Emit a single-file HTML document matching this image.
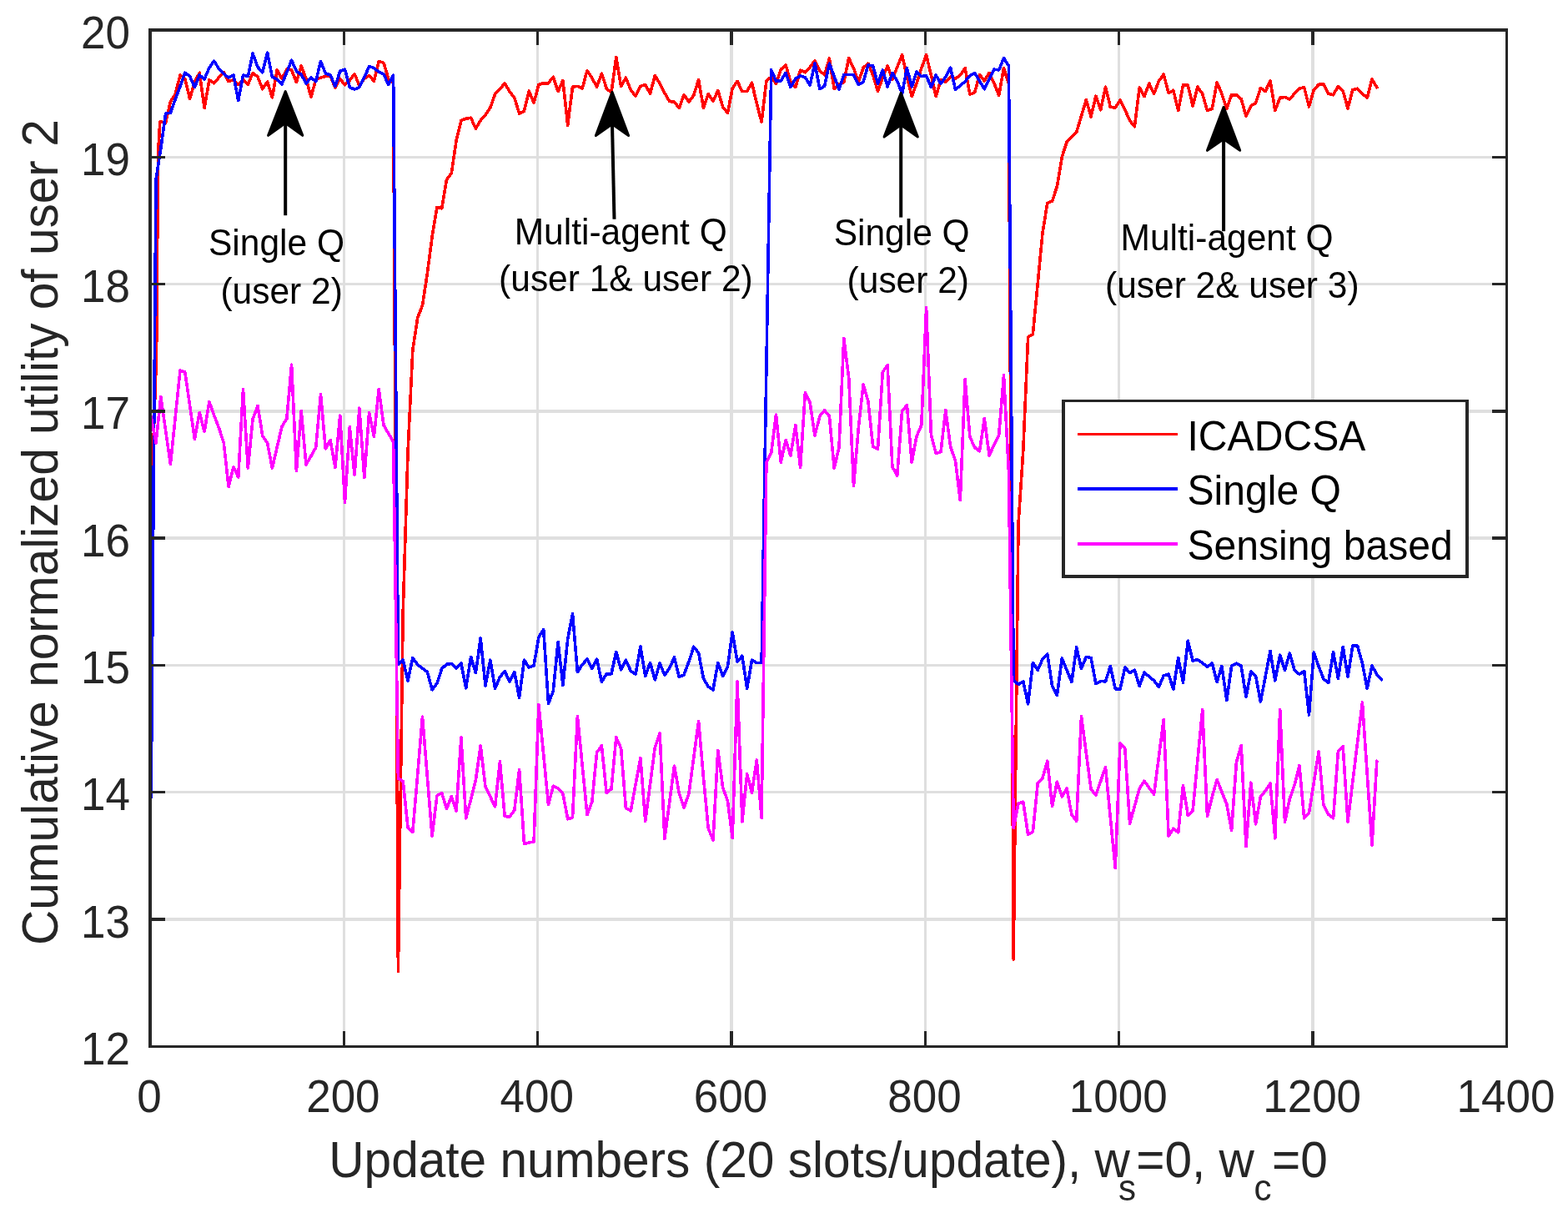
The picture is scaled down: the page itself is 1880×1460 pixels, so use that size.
<!DOCTYPE html>
<html><head><meta charset="utf-8"><title>Cumulative normalized utility of user 2</title><style>html,body{margin:0;padding:0;background:#fff;overflow:hidden}svg{display:block}</style></head><body>
<svg width="1880" height="1460" viewBox="0 0 1880 1460">
<rect width="1880" height="1460" fill="#ffffff"/>
<g stroke="#dfdfdf" stroke-width="3.4" shape-rendering="crispEdges"><line x1="412.36" y1="36.0" x2="412.36" y2="1254.3"/><line x1="644.71" y1="36.0" x2="644.71" y2="1254.3"/><line x1="877.07" y1="36.0" x2="877.07" y2="1254.3"/><line x1="1109.43" y1="36.0" x2="1109.43" y2="1254.3"/><line x1="1341.79" y1="36.0" x2="1341.79" y2="1254.3"/><line x1="1574.14" y1="36.0" x2="1574.14" y2="1254.3"/><line x1="180.0" y1="1102.01" x2="1806.5" y2="1102.01"/><line x1="180.0" y1="949.72" x2="1806.5" y2="949.72"/><line x1="180.0" y1="797.44" x2="1806.5" y2="797.44"/><line x1="180.0" y1="645.15" x2="1806.5" y2="645.15"/><line x1="180.0" y1="492.86" x2="1806.5" y2="492.86"/><line x1="180.0" y1="340.57" x2="1806.5" y2="340.57"/><line x1="180.0" y1="188.29" x2="1806.5" y2="188.29"/></g>
<polyline points="181.2,830.0 181.6,690.0 182.4,575.0 187.6,425.0 189.0,250.0 189.8,180.0 191.8,146.0 192.8,146.0 198.6,147.0 204.4,122.0 210.2,113.0 216.0,90.1 221.8,94.3 227.6,118.5 233.4,98.4 239.2,87.3 245.1,129.5 250.9,95.6 256.7,99.8 262.5,92.9 268.3,86.7 274.1,97.7 279.9,95.6 285.7,101.2 291.5,95.0 297.3,101.2 303.1,87.3 309.0,92.2 314.8,106.7 320.6,98.0 326.4,116.9 332.2,83.9 338.0,94.3 343.8,83.2 349.6,83.9 355.4,98.4 361.2,79.0 367.0,94.3 372.9,116.4 378.7,95.0 384.5,93.2 390.3,91.5 396.1,91.1 401.9,105.3 407.7,94.3 413.5,101.9 419.3,96.3 425.1,88.7 430.9,102.6 436.8,94.3 442.6,90.6 448.4,97.2 454.2,73.5 460.0,75.4 465.8,94.5 471.6,100.0 477.4,1164.5 483.2,734.0 489.0,543.0 494.8,420.0 500.7,381.0 506.5,366.0 512.3,328.0 518.1,284.0 523.9,248.3 529.7,249.8 535.5,215.2 541.3,207.6 547.1,168.5 552.9,144.4 558.7,142.1 564.6,141.3 570.4,154.2 576.2,144.4 582.0,137.6 587.8,129.3 593.6,112.7 599.4,106.7 605.2,99.9 611.0,109.7 616.8,117.2 622.6,136.1 628.5,133.1 634.3,109.0 640.1,123.3 645.9,101.4 651.7,99.7 657.5,99.7 663.3,92.3 669.1,109.6 674.9,96.4 680.7,150.3 686.5,104.2 692.4,103.4 698.2,105.9 704.0,84.5 709.8,93.6 715.6,104.2 721.4,88.2 727.2,106.0 733.0,111.2 738.8,68.5 744.6,103.4 750.4,93.1 756.3,107.9 762.1,115.3 767.9,103.4 773.7,101.4 779.5,112.1 785.3,90.7 791.1,100.1 796.9,111.6 802.7,121.5 808.5,122.3 814.3,129.3 820.1,113.7 826.0,122.3 831.8,114.1 837.6,95.6 843.4,129.3 849.2,112.5 855.0,121.5 860.8,108.4 866.6,128.1 872.4,135.5 878.2,105.9 884.0,97.3 889.9,109.6 895.7,109.6 901.5,99.3 907.3,124.0 913.1,146.2 918.9,97.0 924.7,92.2 930.5,100.4 936.3,83.2 942.1,77.7 947.9,98.4 953.8,104.6 959.6,84.2 965.4,86.7 971.2,80.4 977.0,72.8 982.8,84.6 988.6,89.8 994.4,70.1 1000.2,106.7 1006.0,101.2 1011.8,98.4 1017.7,69.7 1023.5,81.8 1029.3,98.4 1035.1,81.1 1040.9,76.3 1046.7,90.1 1052.5,109.5 1058.3,92.9 1064.1,79.0 1069.9,95.0 1075.7,80.4 1081.6,65.9 1087.4,91.5 1093.2,115.7 1099.0,99.8 1104.8,81.8 1110.6,65.9 1116.4,90.1 1122.2,115.7 1128.0,95.6 1133.8,98.4 1139.6,92.2 1145.5,94.3 1151.3,90.1 1157.1,81.5 1162.9,113.2 1168.7,110.9 1174.5,89.4 1180.3,97.0 1186.1,87.3 1191.9,99.8 1197.7,114.3 1203.5,81.5 1209.4,100.0 1215.2,1150.0 1221.0,628.0 1226.8,540.0 1232.6,404.0 1238.4,400.7 1244.2,340.0 1250.0,279.5 1255.8,243.4 1261.6,241.0 1267.4,223.5 1273.3,188.0 1279.1,170.0 1284.9,164.0 1290.7,158.3 1296.5,139.0 1302.3,119.6 1308.1,139.8 1313.9,115.2 1319.7,131.8 1325.5,104.1 1331.3,128.3 1337.2,129.2 1343.0,120.2 1348.8,131.6 1354.6,144.6 1360.4,151.8 1366.2,105.0 1372.0,115.6 1377.8,100.0 1383.6,112.4 1389.4,97.2 1395.2,89.2 1401.1,111.7 1406.9,108.3 1412.7,132.5 1418.5,102.0 1424.3,102.0 1430.1,126.9 1435.9,104.1 1441.7,112.4 1447.5,132.5 1453.3,130.4 1459.1,98.6 1464.9,112.4 1470.8,130.4 1476.6,113.8 1482.4,113.8 1488.2,118.6 1494.0,139.4 1499.8,126.9 1505.6,123.5 1511.4,105.5 1517.2,109.6 1523.0,96.5 1528.8,132.5 1534.7,117.2 1540.5,116.5 1546.3,119.0 1552.1,112.0 1557.9,106.2 1563.7,104.8 1569.5,128.0 1575.3,107.6 1581.1,101.3 1586.9,101.0 1592.7,112.4 1598.6,113.8 1604.4,103.4 1610.2,108.9 1616.0,130.0 1621.8,107.6 1627.6,106.2 1633.4,112.4 1639.2,117.2 1645.0,95.1 1650.8,104.8" fill="none" stroke="#ff0000" stroke-width="3.6" stroke-linejoin="round" stroke-linecap="round" shape-rendering="crispEdges"/>
<polyline points="181.2,956.0 187.0,215.0 192.8,178.0 198.6,136.0 204.4,135.1 210.2,118.9 216.0,103.7 221.8,87.3 227.6,91.5 233.4,104.6 239.2,90.1 245.1,95.0 250.9,81.1 256.7,73.2 262.5,82.5 268.3,88.7 274.1,93.2 279.9,89.8 285.7,120.5 291.5,90.1 297.3,91.5 303.1,64.2 309.0,80.4 314.8,86.7 320.6,63.1 326.4,92.2 332.2,95.0 338.0,100.8 343.8,86.7 349.6,72.1 355.4,85.3 361.2,89.4 367.0,99.8 372.9,93.2 378.7,97.7 384.5,73.5 390.3,88.0 396.1,89.8 401.9,103.6 407.7,85.3 413.5,83.2 419.3,104.6 425.1,107.1 430.9,104.6 436.8,92.9 442.6,79.4 448.4,81.5 454.2,86.2 460.0,89.0 465.8,101.6 471.6,90.1 477.4,796.2 483.2,791.2 489.0,815.9 494.8,788.5 500.7,796.7 506.5,801.1 512.3,805.5 518.1,826.8 523.9,819.2 529.7,801.6 535.5,796.2 541.3,795.6 547.1,801.1 552.9,795.1 558.7,824.7 564.6,787.4 570.4,806.6 576.2,764.9 582.0,821.9 587.8,791.2 593.6,825.2 599.4,811.5 605.2,804.4 611.0,817.5 616.8,805.5 622.6,836.2 628.5,791.2 634.3,800.0 640.1,797.8 645.9,763.8 651.7,754.5 657.5,843.3 663.3,828.5 669.1,769.3 674.9,821.4 680.7,766.0 686.5,735.9 692.4,805.5 698.2,796.7 704.0,790.1 709.8,801.6 715.6,790.1 721.4,817.5 727.2,807.7 733.0,807.7 738.8,781.4 744.6,802.7 750.4,791.2 756.3,804.4 762.1,808.2 767.9,774.8 773.7,810.4 779.5,794.5 785.3,814.8 791.1,795.1 796.9,809.3 802.7,801.1 808.5,787.9 814.3,811.5 820.1,808.8 826.0,792.9 831.8,775.3 837.6,782.5 843.4,813.2 849.2,823.0 855.0,826.8 860.8,794.5 866.6,810.4 872.4,799.5 878.2,757.8 884.0,793.4 889.9,786.3 895.7,825.2 901.5,791.2 907.3,794.5 913.1,794.5 918.9,440.0 924.7,83.9 930.5,97.0 936.3,97.0 942.1,87.3 947.9,104.6 953.8,94.3 959.6,90.8 965.4,92.9 971.2,101.9 977.0,75.9 982.8,106.7 988.6,103.3 994.4,76.3 1000.2,91.5 1006.0,107.4 1011.8,89.4 1017.7,89.4 1023.5,89.8 1029.3,101.2 1035.1,98.4 1040.9,78.0 1046.7,79.0 1052.5,100.5 1058.3,83.9 1064.1,103.9 1069.9,87.3 1075.7,97.0 1081.6,112.2 1087.4,81.8 1093.2,103.9 1099.0,86.0 1104.8,91.5 1110.6,90.8 1116.4,104.6 1122.2,90.1 1128.0,100.5 1133.8,92.2 1139.6,81.1 1145.5,107.4 1151.3,102.6 1157.1,97.7 1162.9,90.8 1168.7,87.7 1174.5,97.0 1180.3,106.7 1186.1,95.0 1191.9,83.2 1197.7,83.9 1203.5,69.7 1209.4,79.0 1215.2,815.3 1221.0,820.3 1226.8,817.0 1232.6,843.8 1238.4,794.5 1244.2,803.3 1250.0,790.1 1255.8,784.1 1261.6,822.5 1267.4,833.4 1273.3,789.0 1279.1,803.3 1284.9,817.5 1290.7,775.9 1296.5,801.6 1302.3,787.4 1308.1,788.5 1313.9,819.7 1319.7,816.4 1325.5,817.0 1331.3,798.4 1337.2,825.8 1343.0,826.3 1348.8,800.0 1354.6,806.6 1360.4,803.3 1366.2,822.5 1372.0,806.0 1377.8,811.0 1383.6,815.9 1389.4,823.6 1395.2,809.9 1401.1,808.2 1406.9,826.3 1412.7,788.5 1418.5,818.1 1424.3,768.2 1430.1,792.3 1435.9,790.7 1441.7,794.5 1447.5,799.5 1453.3,795.1 1459.1,817.5 1464.9,798.4 1470.8,839.5 1476.6,798.4 1482.4,795.1 1488.2,798.4 1494.0,835.6 1499.8,804.9 1505.6,810.4 1511.4,841.1 1517.2,811.0 1523.0,780.3 1528.8,815.9 1534.7,785.2 1540.5,803.3 1546.3,783.0 1552.1,803.3 1557.9,808.2 1563.7,804.4 1569.5,857.0 1575.3,781.9 1581.1,798.9 1586.9,813.7 1592.7,818.6 1598.6,781.9 1604.4,813.2 1610.2,775.3 1616.0,811.5 1621.8,774.2 1627.6,774.2 1633.4,795.0 1639.2,825.2 1645.0,797.8 1650.8,808.5 1656.6,814.8" fill="none" stroke="#0000ff" stroke-width="3.6" stroke-linejoin="round" stroke-linecap="round" shape-rendering="crispEdges"/>
<polyline points="181.2,499.5 187.0,531.0 192.8,475.5 198.6,515.9 204.4,556.3 210.2,500.1 216.0,444.0 221.8,446.0 227.6,486.1 233.4,526.2 239.2,494.7 245.1,517.3 250.9,481.6 256.7,498.0 262.5,513.0 268.3,531.0 274.1,583.7 279.9,559.7 285.7,572.0 291.5,466.6 297.3,561.1 303.1,502.2 309.0,486.4 314.8,522.7 320.6,531.0 326.4,561.1 332.2,536.1 338.0,511.1 343.8,502.2 349.6,437.1 355.4,564.5 361.2,492.6 367.0,557.0 372.9,546.7 378.7,536.4 384.5,472.7 390.3,537.8 396.1,527.5 401.9,560.4 407.7,498.1 413.5,602.2 419.3,511.8 425.1,569.3 430.9,489.2 436.8,572.7 442.6,494.7 448.4,523.4 454.2,466.6 460.0,509.7 465.8,519.6 471.6,529.6 477.4,933.2 483.2,936.5 489.0,991.6 494.8,997.4 500.7,928.3 506.5,859.2 512.3,930.8 518.1,1002.3 523.9,953.8 529.7,950.5 535.5,969.4 541.3,954.6 547.1,971.9 552.9,883.9 558.7,980.9 564.6,957.9 570.4,934.9 576.2,893.8 582.0,943.1 587.8,955.0 593.6,966.9 599.4,912.7 605.2,978.5 611.0,979.3 616.8,971.0 622.6,922.5 628.5,1011.3 634.3,1010.1 640.1,1008.9 645.9,844.4 651.7,904.5 657.5,964.5 663.3,942.3 669.1,944.7 674.9,951.3 680.7,981.7 686.5,980.1 692.4,858.4 698.2,917.6 704.0,976.8 709.8,961.2 715.6,902.0 721.4,893.8 727.2,950.5 733.0,945.6 738.8,883.9 744.6,897.0 750.4,968.6 756.3,971.9 762.1,940.2 767.9,908.6 773.7,984.2 779.5,940.0 785.3,895.8 791.1,878.9 796.9,1005.4 802.7,961.8 808.5,918.1 814.3,951.0 820.1,968.0 826.0,951.0 831.8,907.8 837.6,864.6 843.4,931.4 849.2,992.9 855.0,1007.2 860.8,899.4 866.6,943.9 872.4,960.0 878.2,1004.5 884.0,816.5 889.9,984.9 895.7,927.9 901.5,950.2 907.3,911.0 913.1,980.4 918.9,554.2 924.7,542.6 930.5,497.2 936.3,554.2 942.1,527.5 947.9,546.2 953.8,509.7 959.6,560.4 965.4,470.5 971.2,482.9 977.0,522.1 982.8,499.0 988.6,491.8 994.4,499.0 1000.2,561.3 1006.0,536.4 1011.8,405.4 1017.7,452.6 1023.5,582.7 1029.3,513.2 1035.1,460.7 1040.9,481.2 1046.7,535.5 1052.5,538.2 1058.3,446.0 1064.1,437.5 1069.9,559.6 1075.7,570.2 1081.6,492.7 1087.4,485.6 1093.2,554.2 1099.0,523.0 1104.8,509.7 1110.6,368.9 1116.4,521.2 1122.2,543.5 1128.0,541.7 1133.8,491.8 1139.6,535.5 1145.5,552.4 1151.3,599.6 1157.1,454.4 1162.9,523.9 1168.7,536.4 1174.5,540.8 1180.3,501.6 1186.1,546.2 1191.9,532.8 1197.7,521.2 1203.5,449.9 1209.4,565.0 1215.2,992.4 1221.0,963.0 1226.8,961.2 1232.6,1000.4 1238.4,996.9 1244.2,939.0 1250.0,932.7 1255.8,912.2 1261.6,966.6 1267.4,937.2 1273.3,955.0 1279.1,945.2 1284.9,976.4 1290.7,984.4 1296.5,858.8 1302.3,902.5 1308.1,946.1 1313.9,953.2 1319.7,936.3 1325.5,919.4 1331.3,980.0 1337.2,1040.5 1343.0,890.9 1348.8,897.1 1354.6,987.1 1360.4,966.2 1366.2,945.2 1372.0,936.3 1377.8,944.3 1383.6,952.3 1389.4,907.3 1395.2,862.4 1401.1,1002.2 1406.9,993.3 1412.7,997.8 1418.5,941.6 1424.3,977.3 1430.1,971.9 1435.9,911.3 1441.7,850.8 1447.5,978.2 1453.3,955.0 1459.1,934.5 1464.9,949.2 1470.8,963.9 1476.6,995.1 1482.4,914.0 1488.2,893.5 1494.0,1014.7 1499.8,938.1 1505.6,988.0 1511.4,955.0 1517.2,947.9 1523.0,939.0 1528.8,1004.9 1534.7,850.8 1540.5,985.3 1546.3,957.7 1552.1,940.8 1557.9,917.6 1563.7,980.8 1569.5,974.6 1575.3,937.7 1581.1,900.7 1586.9,964.8 1592.7,976.4 1598.6,980.8 1604.4,900.7 1610.2,894.4 1616.0,985.3 1621.8,937.5 1627.6,889.7 1633.4,841.9 1639.2,927.4 1645.0,1012.9 1650.8,912.2" fill="none" stroke="#ff00ff" stroke-width="3.6" stroke-linejoin="round" stroke-linecap="round" shape-rendering="crispEdges"/>
<g stroke="#262626" stroke-width="3.4" shape-rendering="crispEdges"><line x1="412.36" y1="1254.3" x2="412.36" y2="1236.3"/><line x1="412.36" y1="36.0" x2="412.36" y2="54.0"/><line x1="644.71" y1="1254.3" x2="644.71" y2="1236.3"/><line x1="644.71" y1="36.0" x2="644.71" y2="54.0"/><line x1="877.07" y1="1254.3" x2="877.07" y2="1236.3"/><line x1="877.07" y1="36.0" x2="877.07" y2="54.0"/><line x1="1109.43" y1="1254.3" x2="1109.43" y2="1236.3"/><line x1="1109.43" y1="36.0" x2="1109.43" y2="54.0"/><line x1="1341.79" y1="1254.3" x2="1341.79" y2="1236.3"/><line x1="1341.79" y1="36.0" x2="1341.79" y2="54.0"/><line x1="1574.14" y1="1254.3" x2="1574.14" y2="1236.3"/><line x1="1574.14" y1="36.0" x2="1574.14" y2="54.0"/><line x1="180.0" y1="1102.01" x2="198.0" y2="1102.01"/><line x1="1806.5" y1="1102.01" x2="1788.5" y2="1102.01"/><line x1="180.0" y1="949.72" x2="198.0" y2="949.72"/><line x1="1806.5" y1="949.72" x2="1788.5" y2="949.72"/><line x1="180.0" y1="797.44" x2="198.0" y2="797.44"/><line x1="1806.5" y1="797.44" x2="1788.5" y2="797.44"/><line x1="180.0" y1="645.15" x2="198.0" y2="645.15"/><line x1="1806.5" y1="645.15" x2="1788.5" y2="645.15"/><line x1="180.0" y1="492.86" x2="198.0" y2="492.86"/><line x1="1806.5" y1="492.86" x2="1788.5" y2="492.86"/><line x1="180.0" y1="340.57" x2="198.0" y2="340.57"/><line x1="1806.5" y1="340.57" x2="1788.5" y2="340.57"/><line x1="180.0" y1="188.29" x2="198.0" y2="188.29"/><line x1="1806.5" y1="188.29" x2="1788.5" y2="188.29"/></g>
<rect x="180.0" y="36.0" width="1626.5" height="1218.3" fill="none" stroke="#262626" stroke-width="3.6" shape-rendering="crispEdges"/>
<g font-family="'Liberation Sans', Arial, Helvetica, sans-serif"><text transform="translate(179.00,1333.00) scale(1.0000,1.04)" font-size="53" fill="#262626" text-anchor="middle">0</text><text transform="translate(411.36,1333.00) scale(1.0000,1.04)" font-size="53" fill="#262626" text-anchor="middle">200</text><text transform="translate(643.71,1333.00) scale(1.0000,1.04)" font-size="53" fill="#262626" text-anchor="middle">400</text><text transform="translate(876.07,1333.00) scale(1.0000,1.04)" font-size="53" fill="#262626" text-anchor="middle">600</text><text transform="translate(1108.43,1333.00) scale(1.0000,1.04)" font-size="53" fill="#262626" text-anchor="middle">800</text><text transform="translate(1340.79,1333.00) scale(1.0000,1.04)" font-size="53" fill="#262626" text-anchor="middle">1000</text><text transform="translate(1573.14,1333.00) scale(1.0000,1.04)" font-size="53" fill="#262626" text-anchor="middle">1200</text><text transform="translate(1805.50,1333.00) scale(1.0000,1.04)" font-size="53" fill="#262626" text-anchor="middle">1400</text><text transform="translate(156.00,1275.80) scale(1.0000,1.04)" font-size="53" fill="#262626" text-anchor="end">12</text><text transform="translate(156.00,1123.51) scale(1.0000,1.04)" font-size="53" fill="#262626" text-anchor="end">13</text><text transform="translate(156.00,971.22) scale(1.0000,1.04)" font-size="53" fill="#262626" text-anchor="end">14</text><text transform="translate(156.00,818.94) scale(1.0000,1.04)" font-size="53" fill="#262626" text-anchor="end">15</text><text transform="translate(156.00,666.65) scale(1.0000,1.04)" font-size="53" fill="#262626" text-anchor="end">16</text><text transform="translate(156.00,514.36) scale(1.0000,1.04)" font-size="53" fill="#262626" text-anchor="end">17</text><text transform="translate(156.00,362.07) scale(1.0000,1.04)" font-size="53" fill="#262626" text-anchor="end">18</text><text transform="translate(156.00,209.79) scale(1.0000,1.04)" font-size="53" fill="#262626" text-anchor="end">19</text><text transform="translate(156.00,57.50) scale(1.0000,1.04)" font-size="53" fill="#262626" text-anchor="end">20</text><text transform="translate(394.30,1410.50) scale(1.0000,1.04)" font-size="58.6" fill="#262626">Update numbers (20 slots/update), w</text><text transform="translate(1341.00,1439.30) scale(1.0000,1.04)" font-size="42" fill="#262626">s</text><text transform="translate(1362.20,1410.50) scale(1.0000,1.04)" font-size="58.6" fill="#262626">=0, w</text><text transform="translate(1503.50,1439.30) scale(1.0000,1.04)" font-size="42" fill="#262626">c</text><text transform="translate(1525.00,1410.50) scale(1.0000,1.04)" font-size="58.6" fill="#262626">=0</text><text transform="translate(69.30,1133.10) rotate(-90) scale(1.0000,1.04)" font-size="58.6" fill="#262626">Cumulative normalized utility of user 2</text></g>
<rect x="1275" y="480.5" width="484" height="210.5" fill="#ffffff" stroke="#262626" stroke-width="3.5" shape-rendering="crispEdges"/>
<line x1="1292" y1="520.2" x2="1412" y2="520.2" stroke="#ff0000" stroke-width="3.4" shape-rendering="crispEdges"/>
<line x1="1292" y1="586.1" x2="1412" y2="586.1" stroke="#0000ff" stroke-width="3.4" shape-rendering="crispEdges"/>
<line x1="1292" y1="651.8" x2="1412" y2="651.8" stroke="#ff00ff" stroke-width="3.4" shape-rendering="crispEdges"/>
<g font-family="'Liberation Sans', Arial, Helvetica, sans-serif"><text transform="translate(1423.50,540.20) scale(1.0000,1.04)" font-size="48.1" fill="#000">ICADCSA</text><text transform="translate(1423.50,605.00) scale(1.0000,1.04)" font-size="48.1" fill="#000">Single Q</text><text transform="translate(1423.50,670.60) scale(1.0000,1.04)" font-size="48.1" fill="#000">Sensing based</text></g>
<line x1="342.2" y1="258.2" x2="342.2" y2="148.0" stroke="#000" stroke-width="4"/><polygon points="342.2,109.6 362.8,162.4 342.2,147.5 321.6,162.4" fill="#000" stroke="#000" stroke-width="3" stroke-linejoin="round"/>
<line x1="736.5" y1="262.8" x2="734.0" y2="149.2" stroke="#000" stroke-width="4"/><polygon points="734.0,110.4 753.6,162.6 734.0,148.7 714.4,162.6" fill="#000" stroke="#000" stroke-width="3" stroke-linejoin="round"/>
<line x1="1080.2" y1="260.6" x2="1080.2" y2="150.2" stroke="#000" stroke-width="4"/><polygon points="1080.2,111.5 1100.3,164.1 1080.2,149.7 1060.1,164.1" fill="#000" stroke="#000" stroke-width="3" stroke-linejoin="round"/>
<line x1="1467.1" y1="277.2" x2="1467.1" y2="167.3" stroke="#000" stroke-width="4"/><polygon points="1467.1,128.4 1486.7,180.3 1467.1,166.8 1447.5,180.3" fill="#000" stroke="#000" stroke-width="3" stroke-linejoin="round"/>
<g font-family="'Liberation Sans', Arial, Helvetica, sans-serif"><text transform="translate(250.00,306.00) scale(1.0000,1.04)" font-size="42.5" fill="#000">Single Q</text><text transform="translate(264.40,363.70) scale(1.0000,1.04)" font-size="42.5" fill="#000">(user 2)</text><text transform="translate(616.70,293.00) scale(1.0000,1.04)" font-size="42.5" fill="#000">Multi-agent Q</text><text transform="translate(598.10,349.20) scale(1.0000,1.04)" font-size="42.5" fill="#000">(user 1&amp; user 2)</text><text transform="translate(999.70,293.50) scale(1.0000,1.04)" font-size="42.5" fill="#000">Single Q</text><text transform="translate(1015.60,351.20) scale(1.0000,1.04)" font-size="42.5" fill="#000">(user 2)</text><text transform="translate(1343.60,299.80) scale(1.0000,1.04)" font-size="42.5" fill="#000">Multi-agent Q</text><text transform="translate(1325.00,357.30) scale(1.0000,1.04)" font-size="42.5" fill="#000">(user 2&amp; user 3)</text></g>
</svg>
</body></html>
